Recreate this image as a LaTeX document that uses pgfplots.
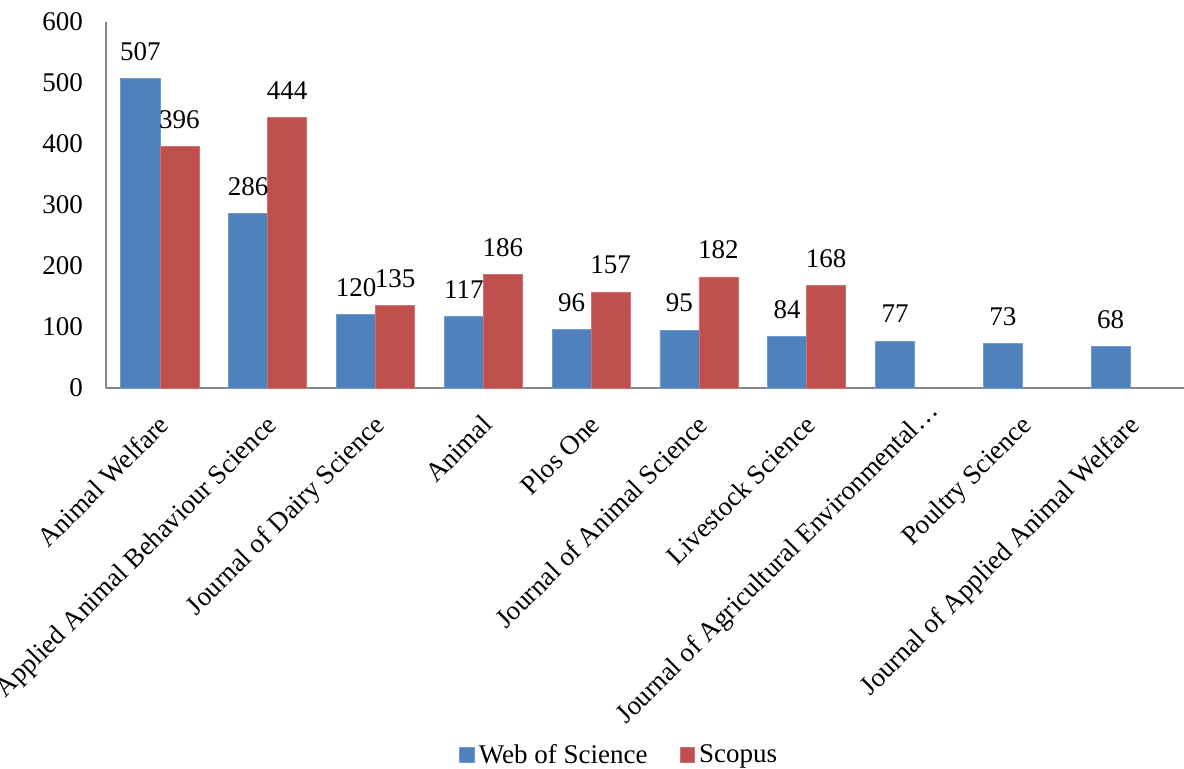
\documentclass[border=0pt]{standalone}
\usepackage{fontspec}
\setmainfont{Liberation Serif}
\usepackage{pgfplots}
\pgfplotsset{compat=1.18}
\definecolor{wos}{HTML}{4F81BD}
\definecolor{sco}{HTML}{C0504D}
\definecolor{axgray}{HTML}{868686}
\begin{document}
\begin{tikzpicture}
\begin{axis}[
  scale only axis, width=539pt, height=183pt,
  at={(0,0)}, anchor=south west,
  xmin=-0.5, xmax=9.5, ymin=0, ymax=600,
  ytick={0,100,...,600},
  xtick={0,...,9},
  xticklabels={Animal Welfare, Applied Animal Behaviour Science, Journal of Dairy Science, Animal, Plos One, Journal of Animal Science, Livestock Science, {Journal of Agricultural Environmental…\kern-10pt\relax}, Poultry Science, Journal of Applied Animal Welfare},
  major tick length=0pt,
  axis x line*=bottom, axis y line*=left,
  axis line style={draw=axgray, line width=1pt, -},
  tick label style={font=\fontsize{13.5}{16}\selectfont},
  x tick label style={xshift=-1.5pt, yshift=-11pt, rotate=45, anchor=north east, inner sep=1pt},
  y tick label style={xshift=-8pt},
  /pgf/number format/assume math mode=true,
  ybar=0pt, bar width=19.5pt,
  nodes near coords,
  every node near coord/.append style={font=\fontsize{13.5}{16}\selectfont, text=black, yshift=5.5pt},
  legend style={at={(axis description cs:0.477,-1.003)}, anchor=center, draw=none, font=\fontsize{13.5}{16}\selectfont, legend columns=2, /tikz/every even column/.append style={column sep=14pt}},
  legend image code/.code={\fill[#1] (0pt,-3.7pt) rectangle (7.4pt,3.7pt);},
  clip=false,
]
\addplot[fill=wos, draw=wos!80!white] coordinates {(0,507) (1,286) (2,120) (3,117) (4,96) (5,95) (6,84) (7,77) (8,73) (9,68)};
\addplot[fill=sco, draw=sco!80!white] coordinates {(0,396) (1,444) (2,135) (3,186) (4,157) (5,182) (6,168)};
\legend{Web of Science, Scopus}
\end{axis}
\pgfresetboundingbox
\useasboundingbox (-53pt,-190.5pt) rectangle (539pt,194pt);
\end{tikzpicture}
\end{document}
